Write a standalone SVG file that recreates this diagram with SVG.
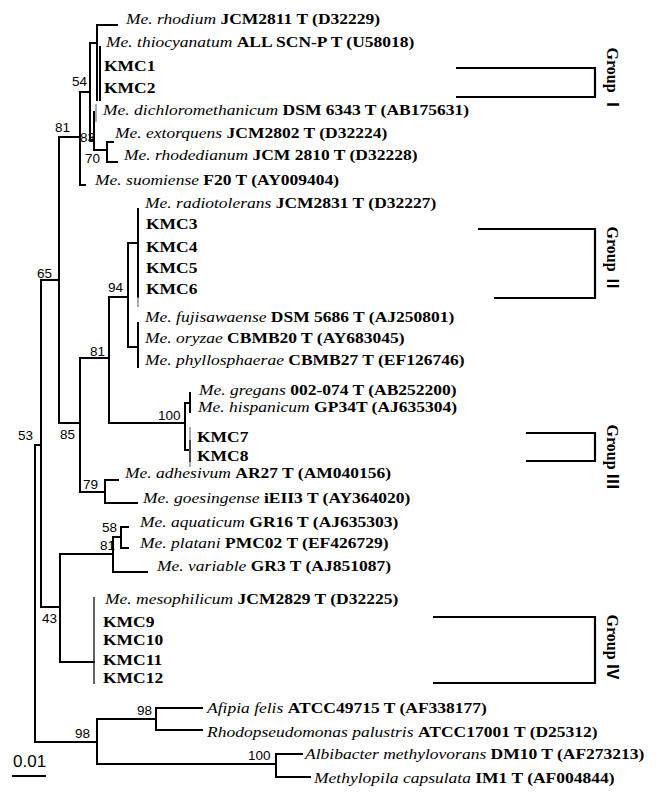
<svg xmlns="http://www.w3.org/2000/svg" width="656" height="800" viewBox="0 0 656 800">
<style>
.t{font-family:"Liberation Serif","Times New Roman",serif;font-size:15.5px;fill:#000}
.i{font-style:italic}
.b{font-weight:bold}
.n{font-family:"Liberation Sans",Arial,sans-serif;font-size:13.5px;fill:#000}
.s{font-family:"Liberation Sans",Arial,sans-serif;font-size:17px;fill:#000}
.e{stroke:#000;stroke-width:2;fill:none;stroke-linecap:square}
.thin{stroke:#777;stroke-width:1.2;fill:none}
.br{stroke:#000;stroke-width:2.2;fill:none}
.g{font-family:"Liberation Serif","Noto Sans CJK SC",serif;font-size:16px;font-weight:bold;fill:#000}
</style>
<rect width="656" height="800" fill="#fff"/>
<g id="connectors">
<path class="e" d="M97 25H117M97 25V100M100 47V100M90 43H97M90 43V140M80 92H90M90 140H94M94 112V150M94 150H107M107 142V162M107 142H113M107 162H117M80 92V185M80 185H85M59 137H80"/>
<path class="thin" d="M96 104V122"/>
<path class="e" d="M59 137V423M41 280H59M41 280V607M35 445H41M35 445V742"/>
<path class="e" d="M59 423H80M80 358V492M80 358H109M109 297V423M109 297H128M128 243V347M128 243H138M138 209V297M128 347H138M138 323V367"/>
<path class="thin" d="M138 297V307"/>
<path class="e" d="M109 423H185M185 403V450M185 403H190M190 393V412M185 450H190M190 441V461"/>
<path class="thin" d="M190 427V467"/>
<path class="e" d="M80 492H105M105 480V503M105 480H118M105 503H137"/>
<path class="e" d="M41 607H60M60 554V662M60 554H113M113 537V572M113 572H147M113 537H121M121 527V548M121 527H128M121 548H128M60 662H94"/>
<path d="M94 597V684" stroke="#222" stroke-width="1.4" fill="none"/>
<path class="e" d="M35 742H97M97 719V764M97 719H156M156 708V730M156 708H202M156 730H202M97 764H276M276 754V777M276 754H302M276 777H310"/>
<path class="e" d="M13 776H45"/>
</g>
<g id="bootstrap">
<text class="n" x="55" y="132">81</text>
<text class="n" x="72" y="86">54</text>
<text class="n" x="80" y="142">83</text>
<text class="n" x="85" y="163">70</text>
<text class="n" x="37" y="278">65</text>
<text class="n" x="108" y="292">94</text>
<text class="n" x="90" y="356">81</text>
<text class="n" x="158" y="420">100</text>
<text class="n" x="18" y="440">53</text>
<text class="n" x="60" y="439">85</text>
<text class="n" x="83" y="489">79</text>
<text class="n" x="102" y="532">58</text>
<text class="n" x="100" y="550">81</text>
<text class="n" x="42" y="623">43</text>
<text class="n" x="137" y="715">98</text>
<text class="n" x="75" y="738">98</text>
<text class="n" x="248" y="760">100</text>
<text class="s" x="13" y="767">0.01</text>
</g>
<g id="leaf1"><text class="t" transform="translate(126,24) scale(1.13,1)"><tspan class="i">Me. rhodium </tspan><tspan class="b">JCM2811 T (D32229)</tspan></text></g>
<g id="leaf2"><text class="t" transform="translate(106,47) scale(1.13,1)"><tspan class="i">Me. thiocyanatum </tspan><tspan class="b">ALL SCN-P T (U58018)</tspan></text></g>
<g id="leaf3"><text class="t b" transform="translate(104,71) scale(1.13,1)">KMC1</text></g>
<g id="leaf4"><text class="t b" transform="translate(104,93) scale(1.13,1)">KMC2</text></g>
<g id="leaf5"><text class="t" transform="translate(103,115) scale(1.13,1)"><tspan class="i">Me. dichloromethanicum </tspan><tspan class="b">DSM 6343 T (AB175631)</tspan></text></g>
<g id="leaf6"><text class="t" transform="translate(115,138) scale(1.13,1)"><tspan class="i">Me. extorquens </tspan><tspan class="b">JCM2802 T (D32224)</tspan></text></g>
<g id="leaf7"><text class="t" transform="translate(124,160) scale(1.13,1)"><tspan class="i">Me. rhodedianum </tspan><tspan class="b">JCM 2810 T (D32228)</tspan></text></g>
<g id="leaf8"><text class="t" transform="translate(95,185) scale(1.13,1)"><tspan class="i">Me. suomiense </tspan><tspan class="b">F20 T (AY009404)</tspan></text></g>
<g id="leaf9"><text class="t" transform="translate(145,208) scale(1.13,1)"><tspan class="i">Me. radiotolerans </tspan><tspan class="b">JCM2831 T (D32227)</tspan></text></g>
<g id="leaf10"><text class="t b" transform="translate(146,229) scale(1.13,1)">KMC3</text></g>
<g id="leaf11"><text class="t b" transform="translate(146,252) scale(1.13,1)">KMC4</text></g>
<g id="leaf12"><text class="t b" transform="translate(146,273) scale(1.13,1)">KMC5</text></g>
<g id="leaf13"><text class="t b" transform="translate(146,294) scale(1.13,1)">KMC6</text></g>
<g id="leaf14"><text class="t" transform="translate(145,322) scale(1.13,1)"><tspan class="i">Me. fujisawaense </tspan><tspan class="b">DSM 5686 T (AJ250801)</tspan></text></g>
<g id="leaf15"><text class="t" transform="translate(145,343) scale(1.13,1)"><tspan class="i">Me. oryzae </tspan><tspan class="b">CBMB20 T (AY683045)</tspan></text></g>
<g id="leaf16"><text class="t" transform="translate(145,365) scale(1.13,1)"><tspan class="i">Me. phyllosphaerae </tspan><tspan class="b">CBMB27 T (EF126746)</tspan></text></g>
<g id="leaf17"><text class="t" transform="translate(199,395) scale(1.13,1)"><tspan class="i">Me. gregans </tspan><tspan class="b">002-074 T (AB252200)</tspan></text></g>
<g id="leaf18"><text class="t" transform="translate(198,412) scale(1.13,1)"><tspan class="i">Me. hispanicum </tspan><tspan class="b">GP34T (AJ635304)</tspan></text></g>
<g id="leaf19"><text class="t b" transform="translate(197,442) scale(1.13,1)">KMC7</text></g>
<g id="leaf20"><text class="t b" transform="translate(197,461) scale(1.13,1)">KMC8</text></g>
<g id="leaf21"><text class="t" transform="translate(125,478) scale(1.13,1)"><tspan class="i">Me. adhesivum </tspan><tspan class="b">AR27 T (AM040156)</tspan></text></g>
<g id="leaf22"><text class="t" transform="translate(143,503) scale(1.13,1)"><tspan class="i">Me. goesingense </tspan><tspan class="b">iEII3 T (AY364020)</tspan></text></g>
<g id="leaf23"><text class="t" transform="translate(140,527) scale(1.13,1)"><tspan class="i">Me. aquaticum </tspan><tspan class="b">GR16 T (AJ635303)</tspan></text></g>
<g id="leaf24"><text class="t" transform="translate(140,548) scale(1.13,1)"><tspan class="i">Me. platani </tspan><tspan class="b">PMC02 T (EF426729)</tspan></text></g>
<g id="leaf25"><text class="t" transform="translate(157,571) scale(1.13,1)"><tspan class="i">Me. variable </tspan><tspan class="b">GR3 T (AJ851087)</tspan></text></g>
<g id="leaf26"><text class="t" transform="translate(105,604) scale(1.13,1)"><tspan class="i">Me. mesophilicum </tspan><tspan class="b">JCM2829 T (D32225)</tspan></text></g>
<g id="leaf27"><text class="t b" transform="translate(103,627) scale(1.13,1)">KMC9</text></g>
<g id="leaf28"><text class="t b" transform="translate(103,645) scale(1.13,1)">KMC10</text></g>
<g id="leaf29"><text class="t b" transform="translate(103,665) scale(1.13,1)">KMC11</text></g>
<g id="leaf30"><text class="t b" transform="translate(103,683) scale(1.13,1)">KMC12</text></g>
<g id="leaf31"><text class="t" transform="translate(207,713) scale(1.13,1)"><tspan class="i">Afipia felis </tspan><tspan class="b">ATCC49715 T (AF338177)</tspan></text></g>
<g id="leaf32"><text class="t" transform="translate(207,737) scale(1.13,1)"><tspan class="i">Rhodopseudomonas palustris </tspan><tspan class="b">ATCC17001 T (D25312)</tspan></text></g>
<g id="leaf33"><text class="t" transform="translate(305,759) scale(1.13,1)"><tspan class="i">Albibacter methylovorans </tspan><tspan class="b">DM10 T (AF273213)</tspan></text></g>
<g id="leaf34"><text class="t" transform="translate(314,783) scale(1.13,1)"><tspan class="i">Methylopila capsulata </tspan><tspan class="b">IM1 T (AF004844)</tspan></text></g>
<g id="group1"><path class="br" d="M456 68H595V97H456"/><text class="g" text-anchor="middle" transform="translate(607,80) rotate(90)">Group Ⅰ</text></g>
<g id="group2"><path class="br" d="M478 229H595V298H494"/><text class="g" text-anchor="middle" transform="translate(607,259) rotate(90)">Group Ⅱ</text></g>
<g id="group3"><path class="br" d="M526 433H595V461H526"/><text class="g" text-anchor="middle" transform="translate(607,457) rotate(90)">Group Ⅲ</text></g>
<g id="group4"><path class="br" d="M433 617H595V683H433"/><text class="g" text-anchor="middle" transform="translate(607,647) rotate(90)">Group Ⅳ</text></g>
</svg>
